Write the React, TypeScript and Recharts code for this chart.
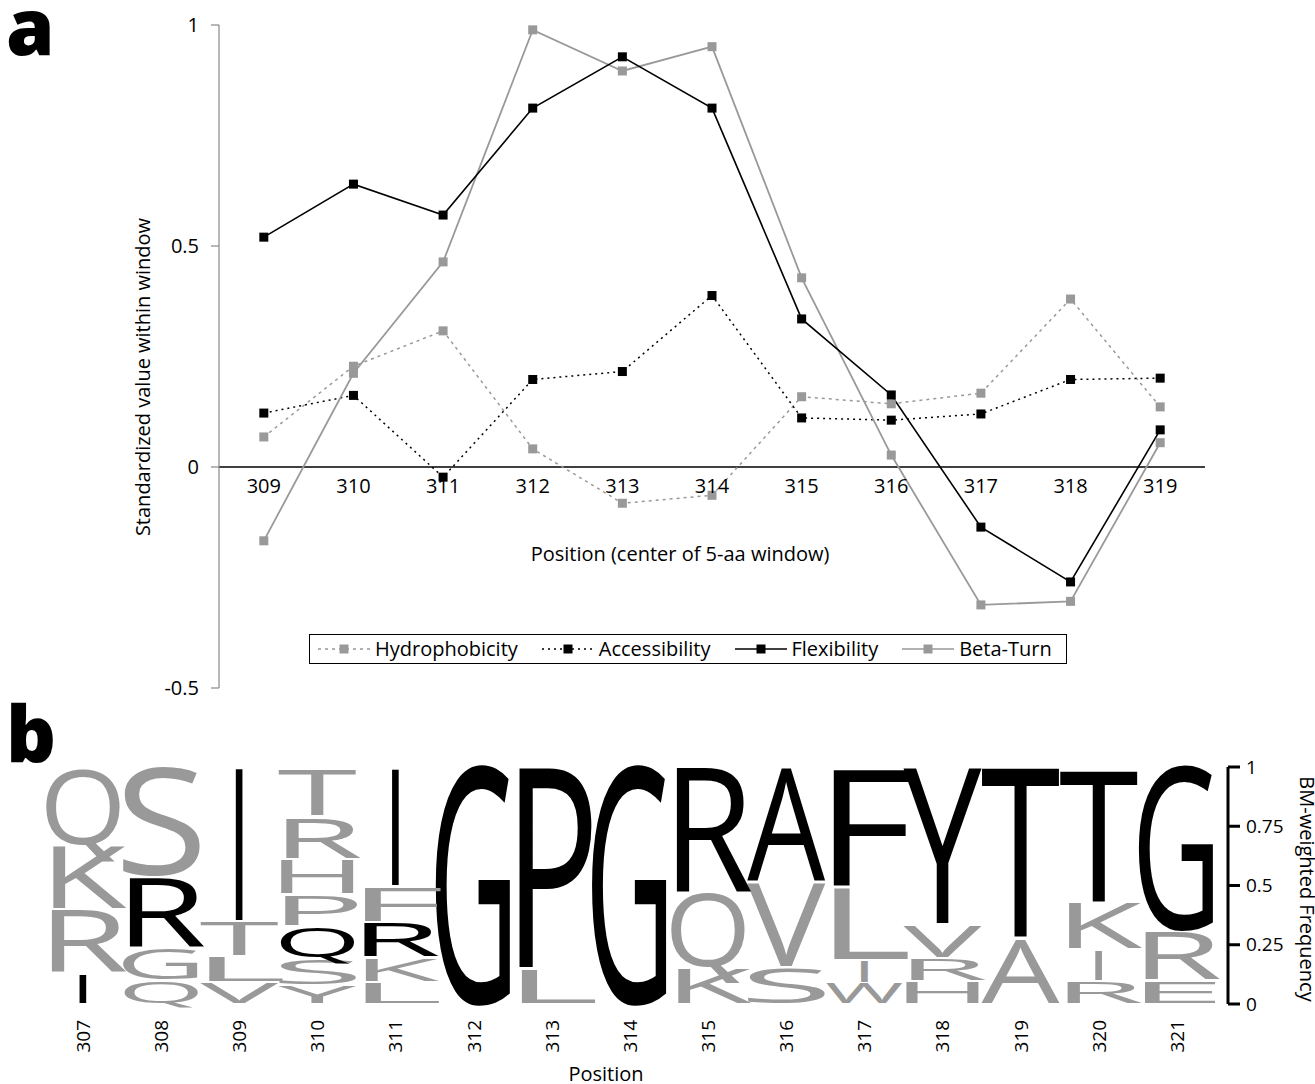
import React from 'react';
import { LineChart, Line, XAxis, YAxis, ReferenceLine, BarChart, Bar } from 'recharts';

const FONT = '"Open Sans", "Noto Sans", sans-serif';
const GRAY = '#999999';

// ---------- Panel a data ----------
const windowCenters = ['309', '310', '311', '312', '313', '314', '315', '316', '317', '318', '319'];
const hydrophobicity = [0.068, 0.228, 0.308, 0.041, -0.082, -0.064, 0.159, 0.143, 0.167, 0.38, 0.136];
const accessibility = [0.122, 0.162, -0.023, 0.198, 0.216, 0.388, 0.111, 0.106, 0.12, 0.198, 0.201];
const flexibility = [0.52, 0.64, 0.57, 0.812, 0.928, 0.812, 0.335, 0.163, -0.136, -0.26, 0.084];
const betaTurn = [-0.167, 0.212, 0.464, 0.989, 0.896, 0.951, 0.428, 0.027, -0.312, -0.304, 0.055];
const valueTicks = [-0.5, 0, 0.5, 1];
const Y_MIN = -0.5;
const Y_MAX = 1;

const lineRows = windowCenters.map((pos, i) => ({
  pos,
  hydrophobicity: hydrophobicity[i],
  accessibility: accessibility[i],
  flexibility: flexibility[i],
  betaTurn: betaTurn[i],
}));

// ---------- Panel b data (bottom -> top) ----------
const logoPositions = ['307', '308', '309', '310', '311', '312', '313', '314', '315', '316', '317', '318', '319', '320', '321'];
const logoLetters = [
  ['I', 'R', 'K', 'Q'],
  ['Q', 'G', 'R', 'S'],
  ['V', 'L', 'T', 'I'],
  ['Y', 'S', 'Q', 'P', 'H', 'R', 'T'],
  ['L', 'K', 'R', 'F', 'I'],
  ['G'],
  ['L', 'P'],
  ['G'],
  ['K', 'Q', 'R'],
  ['S', 'V', 'A'],
  ['W', 'I', 'L', 'F'],
  ['H', 'R', 'V', 'Y'],
  ['A', 'T'],
  ['R', 'I', 'K', 'T'],
  ['E', 'R', 'G'],
];
const logoFreqs = [
  [0.13, 0.27, 0.27, 0.32],
  [0.10, 0.14, 0.30, 0.46],
  [0.09, 0.11, 0.15, 0.65],
  [0.08, 0.11, 0.135, 0.135, 0.15, 0.18, 0.20],
  [0.09, 0.105, 0.15, 0.15, 0.50],
  [1.0],
  [0.15, 0.85],
  [1.0],
  [0.155, 0.315, 0.53],
  [0.155, 0.36, 0.48],
  [0.09, 0.095, 0.31, 0.50],
  [0.095, 0.095, 0.145, 0.665],
  [0.28, 0.72],
  [0.095, 0.135, 0.20, 0.56],
  [0.10, 0.21, 0.69],
];
// 1 = black, 0 = gray
const logoDark = [
  [1, 0, 0, 0],
  [0, 0, 1, 0],
  [0, 0, 0, 1],
  [0, 0, 1, 0, 0, 0, 0],
  [0, 0, 1, 0, 1],
  [1],
  [0, 1],
  [1],
  [0, 0, 1],
  [0, 0, 1],
  [0, 0, 0, 1],
  [0, 0, 0, 1],
  [0, 1],
  [0, 0, 0, 1],
  [0, 0, 1],
];
const freqTicks = [0, 0.25, 0.5, 0.75, 1];
const MAX_STACK = 7;

const logoRows = logoPositions.map((pos, i) => {
  const row: any = { pos };
  for (let k = 0; k < MAX_STACK; k++) {
    row[`h${k}`] = logoFreqs[i][k] ?? 0;
    row[`l${k}`] = logoLetters[i][k] ?? '';
    row[`d${k}`] = logoDark[i][k] ?? 0;
  }
  return row;
});

// ---------- layout constants ----------
const A_W = 1315;
const A_H = 700;
const A_TOP = 25;
const A_XAXIS_H = 12;
const A_PLOT_H = A_H - A_TOP - A_XAXIS_H;
const A_PLOT_W = 1205 - 219;
const HALF_BAND = A_PLOT_W / windowCenters.length / 2;
const zeroPx = A_TOP + ((Y_MAX - 0) / (Y_MAX - Y_MIN)) * A_PLOT_H;

const CAP = 0.714;
const INK: Record<string, number> = {
  A: 0.98, T: 0.96, Y: 0.98, V: 0.98, W: 0.98, K: 0.88, L: 0.8, P: 0.8, R: 0.84,
  F: 0.78, E: 0.78, H: 0.78, G: 0.84, Q: 0.88, S: 0.82,
};

function makeLetterShape(k: number) {
  return (props: any) => {
    const { x, y, width, height } = props;
    const row = props.payload && props.payload.pos ? props.payload : logoRows[props.index];
    const letter = row ? row[`l${k}`] : '';
    if (!letter || !(height > 0.5)) return <g />;
    const fill = row[`d${k}`] ? '#000' : GRAY;
    const pad = Math.min(1.5, height * 0.05);
    const h = height - 2 * pad;
    const base = y + height - pad;
    const cx = x + width / 2;
    if (letter === 'I') {
      return (
        <text
          transform={`translate(${cx},${base}) scale(0.8,${h / (100 * CAP)})`}
          fontSize={100}
          textAnchor="middle"
          fill={fill}
          fontFamily={FONT}
        >
          I
        </text>
      );
    }
    const fs = h / CAP;
    const len = (width * 0.98) / (INK[letter] ?? 0.85);
    return (
      <text
        x={cx - len / 2}
        y={base}
        fontSize={fs}
        fill={fill}
        fontFamily={FONT}
        textLength={len}
        lengthAdjust="spacingAndGlyphs"
      >
        {letter}
      </text>
    );
  };
}

const squareDot = (color: string, size: number) => (p: any) => {
  if (p.cx == null || p.cy == null) return <g key={`e-${p.index}`} />;
  return (
    <rect
      key={`d-${p.index}`}
      x={p.cx - size / 2}
      y={p.cy - size / 2}
      width={size}
      height={size}
      fill={color}
    />
  );
};

const XTickA = (p: any) => (
  <text x={p.x} y={zeroPx + 26} textAnchor="middle" fontSize={20} fill="#000" fontFamily={FONT}>
    {p.payload.value}
  </text>
);

const LogoTick = (p: any) => (
  <g transform={`translate(${p.x},${p.y + 16})`}>
    <text transform="rotate(-90)" textAnchor="end" dy="0.36em" fontSize={19} fill="#000" fontFamily={FONT}>
      {p.payload.value}
    </text>
  </g>
);

const legendItems = [
  { name: 'Hydrophobicity', color: GRAY, dash: '3 4' },
  { name: 'Accessibility', color: '#000', dash: '2 4' },
  { name: 'Flexibility', color: '#000', dash: undefined },
  { name: 'Beta-Turn', color: GRAY, dash: undefined },
];

export default function App() {
  return (
    <div
      style={{
        position: 'absolute',
        left: 0,
        top: 0,
        width: 1315,
        height: 1084,
        background: '#fff',
        fontFamily: FONT,
        overflow: 'hidden',
      }}
    >
      <div style={{ position: 'absolute', left: 0, top: 0 }}>
        <LineChart width={A_W} height={A_H} data={lineRows} margin={{ top: A_TOP, right: 110, left: 0, bottom: 0 }}>
          <XAxis
            dataKey="pos"
            height={A_XAXIS_H}
            axisLine={false}
            tickLine={false}
            tickSize={0}
            tickMargin={0}
            interval={0}
            padding={{ left: HALF_BAND, right: HALF_BAND }}
            tick={<XTickA />}
          />
          <YAxis
            width={219}
            domain={[Y_MIN, Y_MAX]}
            ticks={valueTicks}
            interval={0}
            axisLine={{ stroke: '#888', strokeWidth: 1.2 }}
            tickLine={{ stroke: '#888', strokeWidth: 1.2 }}
            tickSize={8}
            tickMargin={12}
            tick={{ fill: '#000', fontSize: 20, fontFamily: FONT }}
          />
          <ReferenceLine y={0} stroke="#000" strokeWidth={1.4} />
          <Line
            dataKey="hydrophobicity"
            stroke={GRAY}
            strokeWidth={1.5}
            strokeDasharray="3 4"
            dot={squareDot(GRAY, 9)}
            isAnimationActive={false}
          />
          <Line
            dataKey="accessibility"
            stroke="#000"
            strokeWidth={1.5}
            strokeDasharray="2 4"
            dot={squareDot('#000', 9)}
            isAnimationActive={false}
          />
          <Line
            dataKey="betaTurn"
            stroke={GRAY}
            strokeWidth={1.8}
            dot={squareDot(GRAY, 9)}
            isAnimationActive={false}
          />
          <Line
            dataKey="flexibility"
            stroke="#000"
            strokeWidth={1.6}
            dot={squareDot('#000', 9)}
            isAnimationActive={false}
          />
        </LineChart>
      </div>

      <div style={{ position: 'absolute', left: 0, top: 600 }}>
        <BarChart
          width={1315}
          height={484}
          data={logoRows}
          margin={{ top: 167, right: 0, left: 44, bottom: 2 }}
          barCategoryGap={0}
          barGap={0}
          style={{ overflow: 'visible' }}
        >
          <XAxis
            dataKey="pos"
            height={78}
            axisLine={false}
            tickLine={false}
            tickSize={0}
            tickMargin={0}
            interval={0}
            padding={{ left: 0, right: 12 }}
            tick={<LogoTick />}
          />
          <YAxis
            orientation="right"
            width={87}
            domain={[0, 1]}
            ticks={freqTicks}
            interval={0}
            axisLine={{ stroke: '#000', strokeWidth: 3 }}
            tickLine={{ stroke: '#000', strokeWidth: 3 }}
            tickSize={12}
            tickMargin={6}
            tick={{ fill: '#000', fontSize: 19, fontFamily: FONT }}
          />
          {Array.from({ length: MAX_STACK }).map((_, k) => (
            <Bar
              key={k}
              dataKey={`h${k}`}
              stackId="logo"
              isAnimationActive={false}
              shape={makeLetterShape(k)}
            />
          ))}
        </BarChart>
      </div>

      <div
        style={{
          position: 'absolute',
          left: 309,
          top: 634,
          height: 30,
          border: '1px solid #000',
          boxSizing: 'border-box',
          display: 'flex',
          alignItems: 'center',
          paddingLeft: 8,
          paddingRight: 14,
          background: '#fff',
          fontSize: 20,
          whiteSpace: 'nowrap',
        }}
      >
        {legendItems.map((it, i) => (
          <div key={it.name} style={{ display: 'flex', alignItems: 'center', marginRight: i < legendItems.length - 1 ? 24 : 0 }}>
            <svg width={52} height={12} style={{ display: 'block' }}>
              <line x1={0} x2={52} y1={6} y2={6} stroke={it.color} strokeWidth={1.5} strokeDasharray={it.dash} />
              <rect x={21.5} y={1.5} width={9} height={9} fill={it.color} />
            </svg>
            <span style={{ marginLeft: 5, lineHeight: '28px' }}>{it.name}</span>
          </div>
        ))}
      </div>

      <svg
        width={1315}
        height={1084}
        style={{ position: 'absolute', left: 0, top: 0, pointerEvents: 'none' }}
        fontFamily={FONT}
      >
        <text x={6} y={55} fontSize={78} fontWeight={800} fill="#000">a</text>
        <text x={6} y={762} fontSize={78} fontWeight={800} fill="#000">b</text>
        <text transform="translate(150,377) rotate(-90)" textAnchor="middle" fontSize={20} fill="#000">
          Standardized value within window
        </text>
        <text x={680} y={561} textAnchor="middle" fontSize={20} fill="#000">
          Position (center of 5-aa window)
        </text>
        <text x={606} y={1081} textAnchor="middle" fontSize={20} fill="#000">
          Position
        </text>
        <text transform="translate(1300,889) rotate(90)" textAnchor="middle" fontSize={20} fill="#000">
          BM-weighted Frequency
        </text>
      </svg>
    </div>
  );
}
